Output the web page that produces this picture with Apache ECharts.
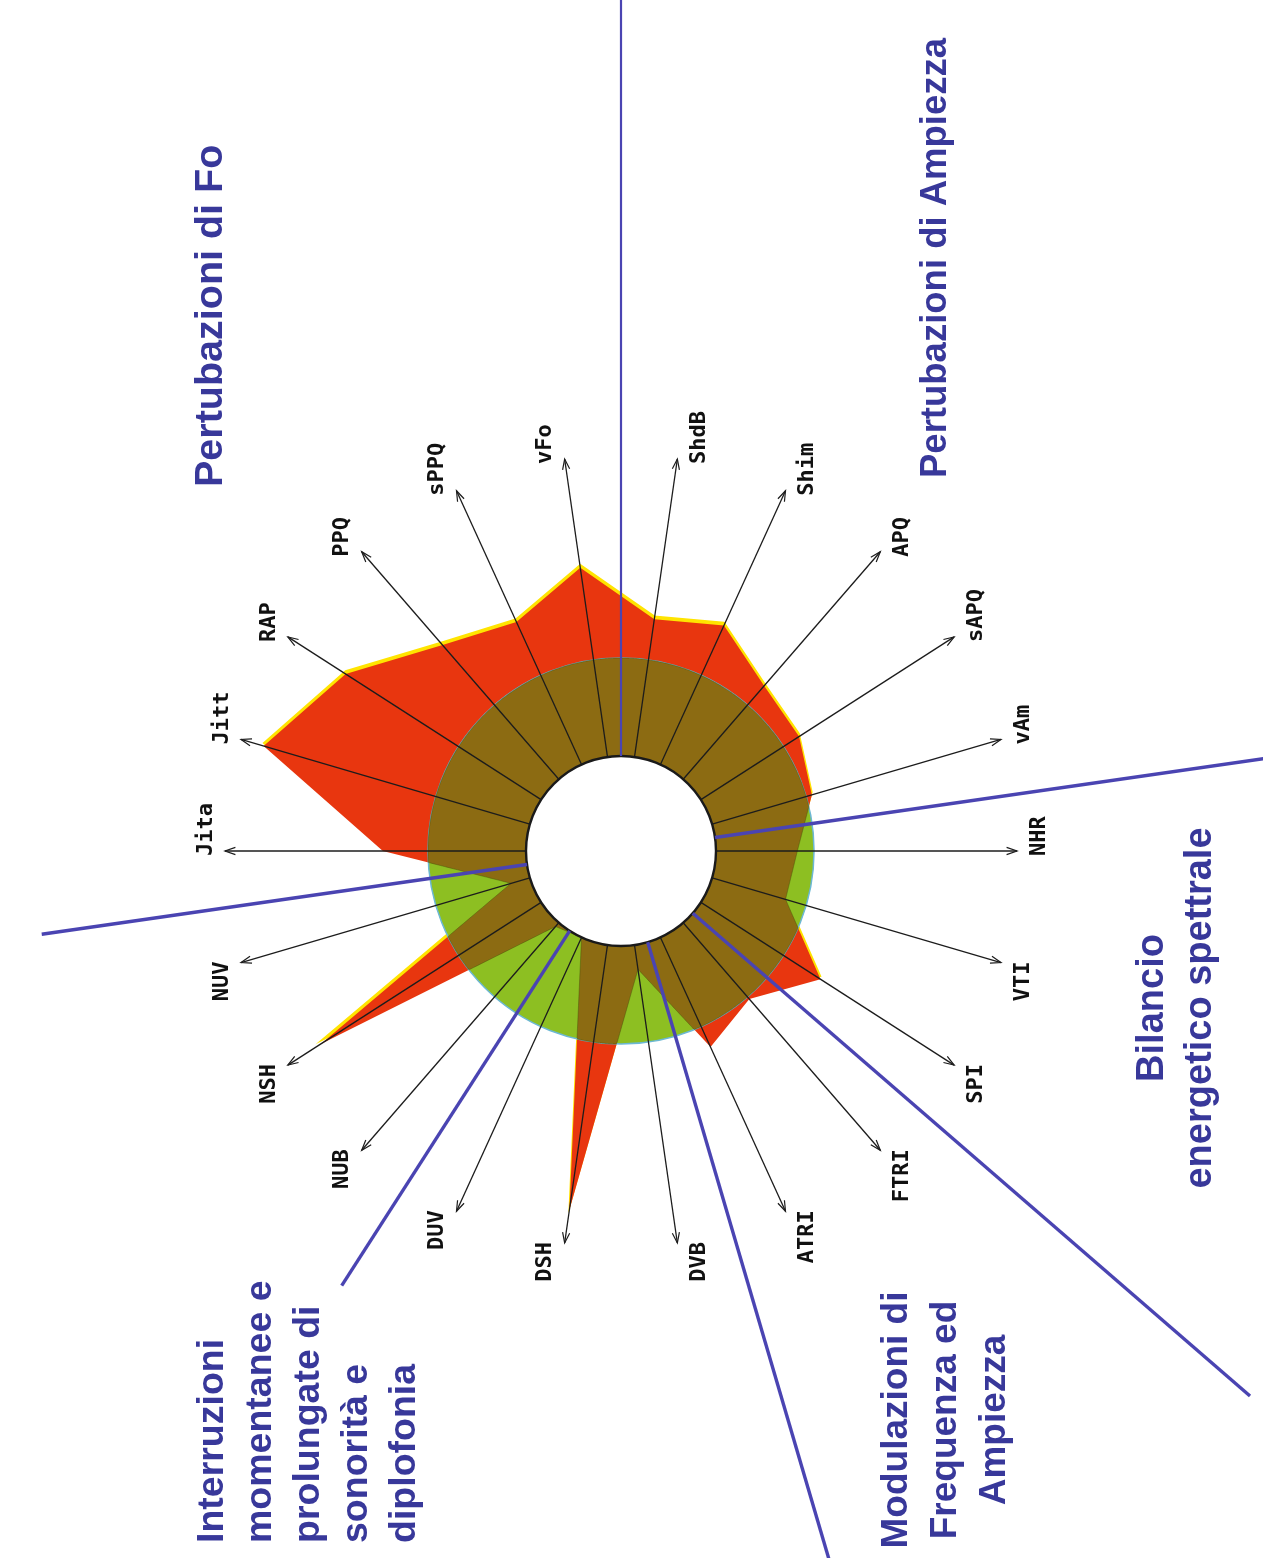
<!DOCTYPE html>
<html>
<head>
<meta charset="utf-8">
<title>Profilo MDVP</title>
<script src="https://cdn.jsdelivr.net/npm/echarts@6/dist/echarts.min.js"></script>
<style>
  html, body { margin: 0; padding: 0; background: #ffffff; }
  #chart { width: 1263px; height: 1558px; }
</style>
</head>
<body>
<div id="chart"></div>
<script>
// MDVP parameters, clockwise starting from Jita
const parameterNames = ['Jita', 'Jitt', 'RAP', 'PPQ', 'sPPQ', 'vFo', 'ShdB', 'Shim', 'APQ', 'sAPQ', 'vAm',
  'NHR', 'VTI', 'SPI', 'FTRI', 'ATRI', 'DVB', 'DSH', 'DUV', 'NUB', 'NSH', 'NUV'];

// Patient values, expressed as multiples of the normative threshold
const patientValues = [1.46, 2.83, 2.37, 1.81, 1.60, 1.95, 1.42, 1.56, 1.26, 1.19, 1.06,
  0.83, 0.78, 1.45, 1.03, 1.23, 0.25, 2.73, 0.00, 0.05, 2.67, 0.20];

// Normative threshold (the green disc)
const thresholdValue = 1;

// Length of each parameter arrow, in the same units
const axisMax = 3.07;

// Dividers between parameter families (positions between axes) and how far they run
const groupDividers = [5.5, 10.5, 13.5, 15.5, 18.5, 21.5];
const dividerReach = [8.0, 6.4, 7.52, 7.0, 4.3, 5.0];

// Family captions
const groupTitles = [
  'Pertubazioni di Fo',
  'Pertubazioni di Ampiezza',
  'Bilancio\nenergetico spettrale',
  'Modulazioni di\nFrequenza ed\nAmpiezza',
  'Interruzioni\nmomentanee e\nprolungate di\nsonorità e\ndiplofonia'
];

const RED = '#e8360f';
const YELLOW = '#ffe400';
const GREEN = '#8dbf22';
const BROWN = '#8c6b12';
const DIVIDER = '#4a44b2';
const TITLE = '#38389a';
const TITLE_FONT = '"Liberation Sans", Arial, sans-serif';

const chart = echarts.init(document.getElementById('chart'), null, { renderer: 'canvas' });

function allPoints(api) {
  const pts = [];
  for (let j = 0; j < parameterNames.length; j++) {
    pts.push(api.coord([api.value(0, j), api.value(1, j)]));
  }
  return pts;
}

// Polygon restricted to a disc centred on the chart centre (radial projection of each edge)
function clipToDisc(pts, c, R, steps) {
  const out = [];
  for (let k = 0; k < pts.length; k++) {
    const a = pts[k], b = pts[(k + 1) % pts.length];
    for (let s = 0; s < steps; s++) {
      const t = s / steps;
      let x = a[0] + (b[0] - a[0]) * t;
      let y = a[1] + (b[1] - a[1]) * t;
      const dx = x - c[0], dy = y - c[1];
      const d = Math.sqrt(dx * dx + dy * dy);
      if (d > R) { x = c[0] + dx * R / d; y = c[1] + dy * R / d; }
      out.push([x, y]);
    }
  }
  return out;
}

function radiusOf(api, cs, value) {
  const p = api.coord([value, 0]);
  return Math.sqrt((p[0] - cs.cx) * (p[0] - cs.cx) + (p[1] - cs.cy) * (p[1] - cs.cy));
}

function rotatedText(text, x, y, size, align, lineHeight) {
  return {
    type: 'text', x: x, y: y, rotation: Math.PI / 2, silent: true,
    style: {
      text: text, fill: TITLE, font: 'bold ' + size + 'px ' + TITLE_FONT,
      lineHeight: lineHeight || size,
      align: align, textAlign: align, verticalAlign: 'middle', textVerticalAlign: 'middle'
    }
  };
}

const patientData = patientValues.map((v, i) => [v, i]);

const option = {
  backgroundColor: '#ffffff',
  animation: false,
  polar: { center: [621, 851], radius: [95, 396] },
  radiusAxis: { type: 'value', min: 0, max: axisMax, show: false },
  angleAxis: { type: 'value', min: 0, max: parameterNames.length, startAngle: 180, clockwise: true, show: false },
  series: [
    {
      // patient profile: red with a yellow rim
      type: 'custom', coordinateSystem: 'polar', silent: true, z: 2,
      encode: { radius: 0, angle: 1 },
      data: patientData,
      renderItem(params, api) {
        if (params.dataIndex !== 0) return;
        const pts = allPoints(api);
        return {
          type: 'group',
          children: [
            { type: 'polygon', x: 0, y: -3, shape: { points: pts },
              style: { fill: YELLOW, stroke: YELLOW, lineWidth: 1.5, lineJoin: 'miter' } },
            { type: 'polygon', shape: { points: pts }, style: { fill: RED } }
          ]
        };
      }
    },
    {
      // normative threshold disc
      type: 'custom', coordinateSystem: 'polar', silent: true, z: 3,
      encode: { radius: 0, angle: 1 },
      data: [[thresholdValue, 0]],
      renderItem(params, api) {
        const cs = params.coordSys;
        const R = radiusOf(api, cs, api.value(0));
        return { type: 'circle', shape: { cx: cs.cx, cy: cs.cy, r: R },
          style: { fill: GREEN, stroke: '#6cb8d4', lineWidth: 1.5 } };
      }
    },
    {
      // part of the profile inside the threshold
      type: 'custom', coordinateSystem: 'polar', silent: true, z: 4,
      encode: { radius: 0, angle: 1 },
      data: patientData,
      renderItem(params, api) {
        if (params.dataIndex !== 0) return;
        const cs = params.coordSys;
        const R = radiusOf(api, cs, thresholdValue);
        const pts = clipToDisc(allPoints(api), [cs.cx, cs.cy], R, 60);
        return { type: 'polygon', shape: { points: pts },
          style: { fill: BROWN, stroke: 'rgba(70,80,10,0.55)', lineWidth: 0.8 } };
      }
    },
    {
      // parameter arrows and their names
      type: 'custom', coordinateSystem: 'polar', silent: true, z: 5,
      encode: { radius: 0, angle: 1 },
      data: parameterNames.map((n, i) => [axisMax, i]),
      renderItem(params, api) {
        const cs = params.coordSys;
        const i = api.value(1);
        const from = api.coord([0, i]);
        const tip = api.coord([api.value(0), i]);
        const ang = Math.atan2(tip[1] - from[1], tip[0] - from[0]);
        const hl = 11, ha = 0.33;
        const w1 = [tip[0] - hl * Math.cos(ang - ha), tip[1] - hl * Math.sin(ang - ha)];
        const w2 = [tip[0] - hl * Math.cos(ang + ha), tip[1] - hl * Math.sin(ang + ha)];
        const upperHalf = params.dataIndex <= 11;
        const leftSide = tip[0] < cs.cx - 1;
        const lx = leftSide ? tip[0] - 19 : tip[0] + 22;
        const ly = upperHalf ? tip[1] + 5 : tip[1] - 1;
        const align = upperHalf ? 'left' : 'right';
        return {
          type: 'group',
          children: [
            { type: 'line', shape: { x1: from[0], y1: from[1], x2: tip[0], y2: tip[1] },
              style: { stroke: '#1c1c1c', lineWidth: 1.3 } },
            { type: 'polyline', shape: { points: [w1, tip, w2] },
              style: { stroke: '#1c1c1c', lineWidth: 1.2, fill: null } },
            { type: 'text', x: lx, y: ly, rotation: Math.PI / 2,
              style: { text: parameterNames[params.dataIndex], fill: '#111111',
                font: 'bold 22px "DejaVu Sans Mono", monospace',
                align: align, textAlign: align, verticalAlign: 'middle', textVerticalAlign: 'middle' } }
          ]
        };
      }
    },
    {
      // central hub
      type: 'custom', coordinateSystem: 'polar', silent: true, z: 6,
      encode: { radius: 0, angle: 1 },
      data: [[0, 0]],
      renderItem(params, api) {
        const cs = params.coordSys;
        const r = radiusOf(api, cs, api.value(0));
        return { type: 'circle', shape: { cx: cs.cx, cy: cs.cy, r: r },
          style: { fill: '#ffffff', stroke: '#1a1a1a', lineWidth: 2.4 } };
      }
    },
    {
      // family dividers
      type: 'custom', coordinateSystem: 'polar', silent: true, z: 7,
      encode: { radius: 0, angle: 1 },
      data: groupDividers.map((a, k) => [dividerReach[k], a]),
      renderItem(params, api) {
        const a = api.value(1);
        const p0 = api.coord([0, a]);
        const p1 = api.coord([api.value(0), a]);
        return { type: 'line', shape: { x1: p0[0], y1: p0[1], x2: p1[0], y2: p1[1] },
          style: { stroke: DIVIDER, lineWidth: params.dataIndex === 0 ? 2.2 : 3.4 } };
      }
    }
  ],
  graphic: {
    elements: [
      rotatedText(groupTitles[0], 211, 487, 39.5, 'left'),
      rotatedText(groupTitles[1], 936, 478, 36.5, 'left'),
      rotatedText(groupTitles[2], 1177, 1008, 38, 'center', 48),
      rotatedText(groupTitles[3], 946, 1420, 37, 'center', 49),
      rotatedText(groupTitles[4], 309, 1543, 37.5, 'left', 48)
    ]
  }
};

chart.setOption(option);
</script>
</body>
</html>
